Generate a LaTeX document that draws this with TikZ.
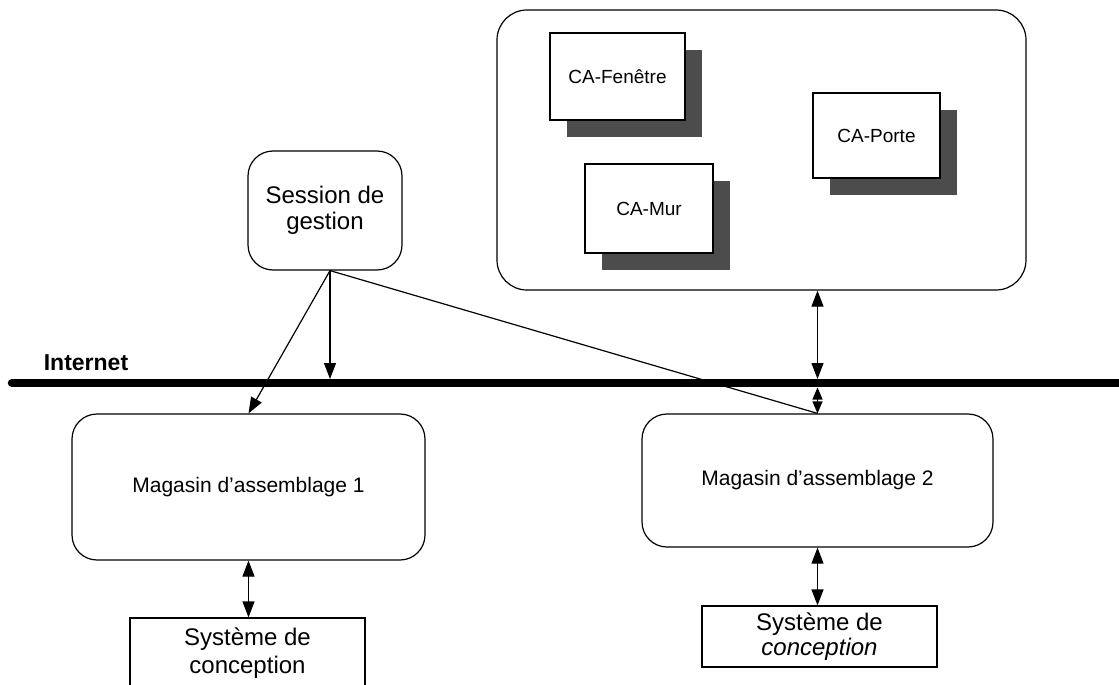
\documentclass[tikz,border=0pt]{standalone}
\usepackage{fontspec}
\setmainfont{Liberation Sans}
\usetikzlibrary{arrows.meta,shadows}
\begin{document}
\begin{tikzpicture}[x=1pt,y=-1pt,
  line width=1.2pt,
  rbox/.style={draw, rounded corners=25pt, fill=white, inner sep=0pt, align=center},
  sbox/.style={draw, fill=white, inner sep=0pt, align=center},
  cabox/.style={draw, fill=white, inner sep=0pt, align=center, font=\fontsize{19}{22}\selectfont,
     drop shadow={shadow xshift=17pt, shadow yshift=-17pt, fill=black!70, opacity=1}},
  arr/.style={-{Triangle[length=16pt,width=12pt]}},
  darr/.style={{Triangle[length=16pt,width=12pt]}-{Triangle[length=16pt,width=12pt]}},
  sdarr/.style={{Triangle[length=12pt,width=10pt]}-{Triangle[length=12pt,width=10pt]}},
  net/.style={line width=8.5pt, line cap=round}
]
\clip (0,0) rectangle (1119,685);
\fill[white] (0,0) rectangle (1119,685);

% big container
\node[rbox, rounded corners=30pt, minimum width=529pt, minimum height=280pt] (ca) at (761.5,150) {};
\node[cabox, minimum width=135pt, minimum height=87pt] (fen) at (617.5,76.5) {CA-Fenêtre};
\node[cabox, minimum width=128pt, minimum height=89pt] (mur) at (649,208.5) {CA-Mur};
\node[cabox, minimum width=127pt, minimum height=85pt] (porte) at (876.5,135.5) {CA-Porte};

% session
\node[rbox, minimum width=154pt, minimum height=119pt, font=\fontsize{24}{26}\selectfont] (sess) at (325,210.5) {Session de\\gestion};

% internet
\coordinate (netL) at (12,383);
\coordinate (netR) at (1125,383);
\draw[net] (netL) -- (netR);
\node[font=\bfseries\fontsize{23}{24}\selectfont] (inet) at (86,363) {Internet};
\coordinate (netA) at (330,379);
\coordinate (netB) at (817.5,379);
\coordinate (netC) at (817.5,387.5);

% magasins
\node[rbox, minimum width=353pt, minimum height=146pt, font=\fontsize{21}{24}\selectfont] (mag1) at (248.5,487) {Magasin d'assemblage 1};
\node[rbox, minimum width=351pt, minimum height=133pt, font=\fontsize{21}{24}\selectfont] (mag2) at (817.5,480.5) {Magasin d'assemblage 2};

% systemes
\node[sbox, minimum width=235pt, minimum height=70pt, font=\fontsize{24}{28}\selectfont] (sys1) at (247.5,653) {Système de\\conception};
\node[sbox, minimum width=235pt, minimum height=61pt, font=\fontsize{24}{25}\selectfont] (sys2) at (819.5,636.5) {Système de\\\itshape conception};

% connectors
\coordinate (sessp) at ([xshift=5pt]sess.south);
\draw[arr] (sessp) -- (netA);
\draw[arr] (sessp) -- (mag1.north);
\draw (sessp) -- (mag2.north);
\draw[darr] (ca.south -| netB) -- (netB);
\draw[sdarr] (netC) -- (mag2.north);
\draw[darr] (mag1.south) -- (mag1.south |- sys1.north);
\draw[darr] (mag2.south) -- (mag2.south |- sys2.north);
\end{tikzpicture}
\end{document}
